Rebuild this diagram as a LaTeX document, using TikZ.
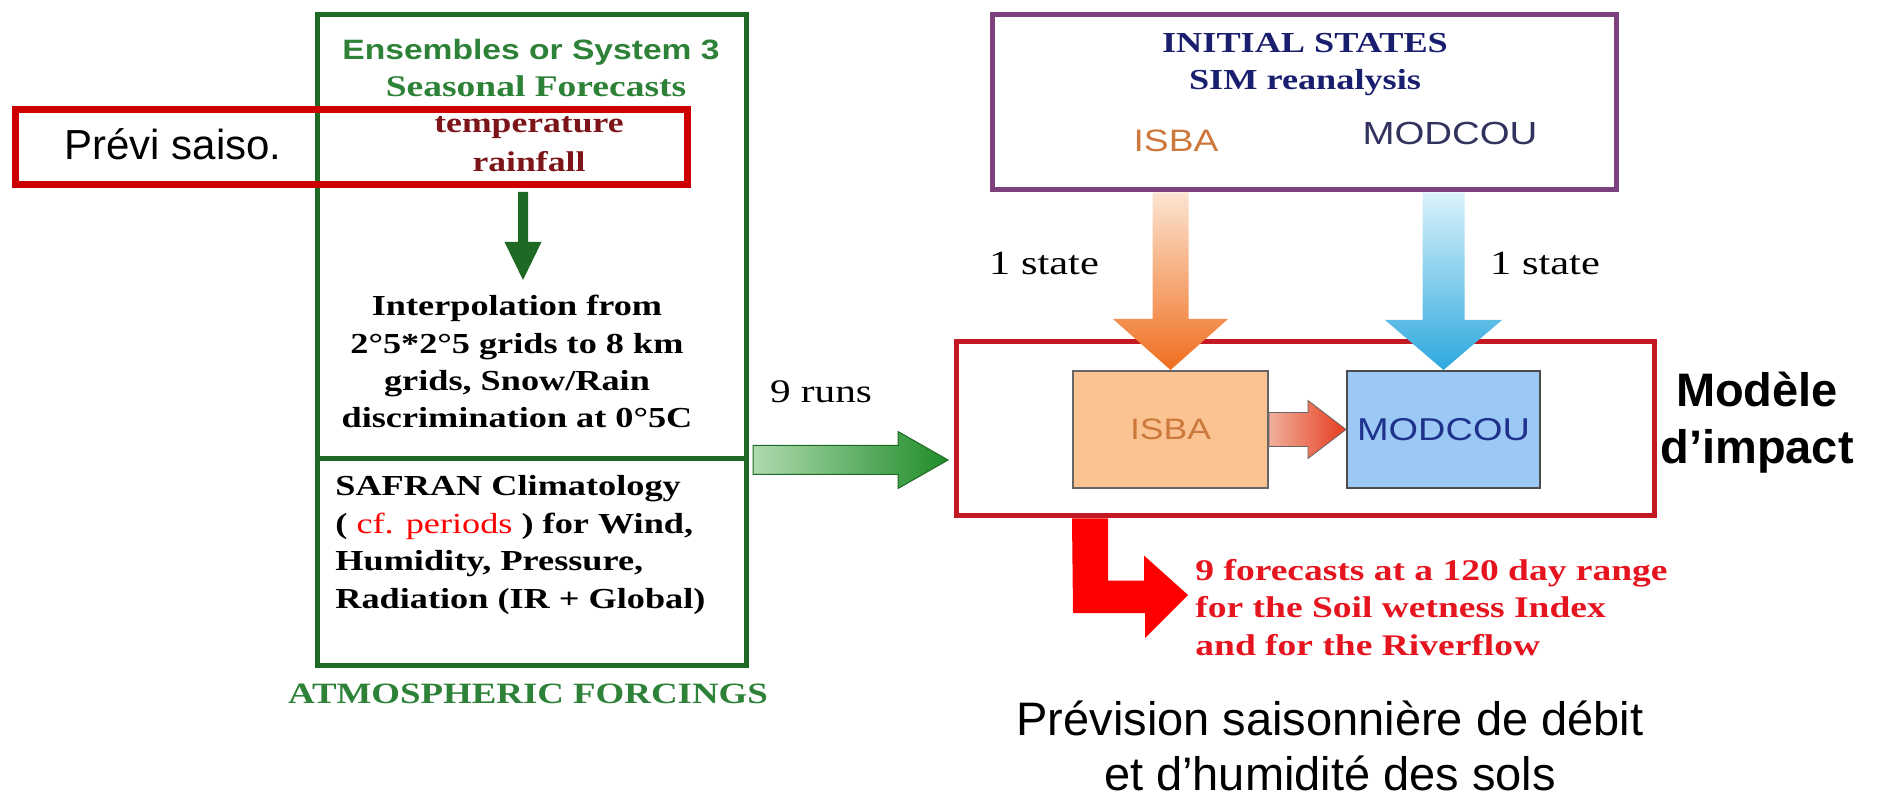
\documentclass[tikz,border=0pt]{standalone}
\usepackage{fontspec}
\setmainfont{Liberation Sans}
\newfontfamily\oldserif{Liberation Serif}[FakeStretch=1.25]
\newfontfamily\oldsans{Liberation Sans}[FakeStretch=1.2]
\usetikzlibrary{positioning,calc}
\tikzset{>=stealth}

\newcommand{\fsz}[2]{\fontsize{#1}{#2}\selectfont}

\definecolor{forcegreen}{RGB}{30,105,35}
\definecolor{textgreen}{RGB}{45,130,55}
\definecolor{saisored}{RGB}{204,0,0}
\definecolor{initpurple}{RGB}{125,65,125}
\definecolor{impactred}{RGB}{195,25,35}
\definecolor{navy}{RGB}{25,30,110}
\definecolor{slatenavy}{RGB}{50,50,95}
\definecolor{wine}{RGB}{125,20,25}
\definecolor{isbafill}{RGB}{250,195,145}
\definecolor{isbatext}{RGB}{205,120,60}
\definecolor{modfill}{RGB}{155,200,245}
\definecolor{modtext}{RGB}{30,50,140}
\definecolor{fcred}{RGB}{230,20,30}

\tikzset{
  box/.style={draw, inner sep=0pt},
  lbl/.style={inner sep=0pt, anchor=base},
  oldtext/.style={font=\oldserif\bfseries\fsz{14.5}{18.7}},
}

\begin{document}
\begin{tikzpicture}[x=0.5pt,y=-0.5pt]
\useasboundingbox (0,0) rectangle (1878,801);

% atmospheric forcings
\node[box, draw=forcegreen, line width=2.5pt, minimum width=214.5pt, minimum height=325pt] (forcing) at (531.5,340) {};
\coordinate (divy) at (0,459);
\draw[forcegreen, line width=2.5pt] (forcing.west |- divy) -- (forcing.east |- divy);
\node[lbl, text=textgreen, font=\oldsans\bfseries\fsz{14}{17}] (ens) at (531,60) {Ensembles or System 3};
\node[lbl, text=textgreen, font=\oldserif\bfseries\fsz{15}{18}] (seas) at (536,97) {Seasonal Forecasts};
\node[lbl, text=wine, align=center, font=\oldserif\bfseries\fsz{14.25}{19.5}] (vars) at (529,172) {temperature\\rainfall};
\node[lbl, oldtext, align=center] (interp) at (517,428) {Interpolation from\\2°5*2°5 grids to 8 km\\grids, Snow/Rain\\discrimination at 0°5C};
\node[lbl, oldtext, align=left, anchor=base west] (safran) at (335,608) {SAFRAN Climatology\\( {\mdseries\color{red}cf. periods} ) for Wind,\\Humidity, Pressure,\\Radiation (IR + Global)};
\node[lbl, text=textgreen, font=\oldserif\bfseries\fsz{14.75}{18}] (atmo) at (528,703) {ATMOSPHERIC FORCINGS};

\node[box, draw=saisored, line width=3.5pt, minimum width=336pt, minimum height=37.5pt] (saisobox) at (351,147) {};
\node[lbl, font=\fsz{21}{25}] (saiso) at (173,160) {Prévi saiso.};

\coordinate (gtop) at (523,192);
\coordinate (gtip) at (523,280);
\fill[forcegreen] (gtop) ++(-5,0) -- ++(10,0) -- ++(0,50) -- ++(13.5,0) -- (gtip) -- ++(-18.5,-38) -- ++(13.5,0) -- cycle;

% initial states
\node[box, draw=initpurple, line width=2.5pt, minimum width=312pt, minimum height=87.5pt] (initial) at (1304,102.5) {};
\node[lbl, oldtext, text=navy, align=center] (inittitle) at (1305,90) {INITIAL STATES\\SIM reanalysis};
\node[lbl, text=isbatext, font=\oldsans\fsz{15.5}{18}] (initisba) at (1176,152) {ISBA};
\node[lbl, text=slatenavy, font=\oldsans\fsz{16}{18}] (initmod) at (1450,145) {MODCOU};

% impact model
\node[box, draw=impactred, line width=2.5pt, minimum width=349pt, minimum height=87pt] (impact) at (1305,429) {};
\node[box, draw=black!60, line width=1pt, fill=isbafill, text=isbatext, font=\oldsans\fsz{14.8}{18},
  minimum width=97.5pt, minimum height=58.5pt] (isba) at (1170.5,429.5) {ISBA};
\node[box, draw=black!70, line width=1pt, fill=modfill, text=modtext, font=\oldsans\fsz{15.8}{18},
  minimum width=96.5pt, minimum height=58.5pt, right=38.5pt of isba] (modcou) {MODCOU};
\node[lbl, align=center, font=\bfseries\fsz{23.5}{28.5}] (impactlbl) at (1757,464) {Modèle\\d’impact};

\coordinate (otop) at (isba.north |- initial.south);
\shade[top color={rgb,255:red,252;green,228;blue,210}, bottom color={rgb,255:red,240;green,110;blue,30}]
  (otop) ++(-18,0) -- ++(36,0) -- ($(isba.north)+(18,-51)$) -- ++(39.5,0) -- (isba.north) -- ++(-57.5,-51) -- ++(39.5,0) -- cycle;
\coordinate (btop) at (modcou.north |- initial.south);
\shade[top color={rgb,255:red,218;green,242;blue,250}, bottom color={rgb,255:red,45;green,168;blue,222}]
  (btop) ++(-21,0) -- ++(42,0) -- ($(modcou.north)+(21,-50)$) -- ++(37.5,0) -- (modcou.north) -- ++(-58.5,-50) -- ++(37.5,0) -- cycle;
\node[lbl, font=\oldserif\fsz{17}{20}] (stateisba) at (1044,275) {1 state};
\node[lbl, font=\oldserif\fsz{17}{20}] (statemod) at (1545,275) {1 state};

\shade[left color={rgb,255:red,240;green,175;blue,155}, right color={rgb,255:red,230;green,60;blue,30}, draw=black!60, line width=0.4pt]
  (isba.east) ++(0,-17) -- ($(modcou.west)+(-38,-17)$) -- ++(0,-12) -- (modcou.west) -- ++(-38,29) -- ++(0,-12) -- ($(isba.east)+(0,17)$) -- cycle;

% 9 runs
\coordinate (runstart) at (753,460);
\coordinate (runtip) at (948,460);
\shade[left color={rgb,255:red,175;green,218;blue,175}, right color={rgb,255:red,30;green,140;blue,40}, draw=forcegreen, line width=0.5pt]
  (runstart) ++(0,-14.5) -- ($(runtip)+(-50,-14.5)$) -- ++(0,-14) -- (runtip) -- ++(-50,28.5) -- ++(0,-14) -- ++(-145,0) -- cycle;
\node[lbl, font=\oldserif\fsz{16.5}{20}] (runs) at (821,403) {9 runs};

% forecasts
\coordinate (ltop) at (isba.west |- impact.south);
\coordinate (ltip) at (1188,595);
\fill[red] (ltop) -- ++(36,0) -- ++(0,62) -- ++(36,0) -- ++(0,-25) -- (ltip) -- ++(-43,43) -- ++(0,-25) -- ++(-72,0) -- cycle;
\node[lbl, anchor=base west, align=left, text=fcred, font=\oldserif\bfseries\fsz{15}{18.75}] (fc) at (1195,655)
  {9 forecasts at a 120 day range\\for the Soil wetness Index\\and for the Riverflow};

\node[lbl, align=center, font=\fsz{23.5}{27.5}] (prevision) at (1330,790) {Prévision saisonnière de débit\\et d’humidité des sols};
\end{tikzpicture}
\end{document}
